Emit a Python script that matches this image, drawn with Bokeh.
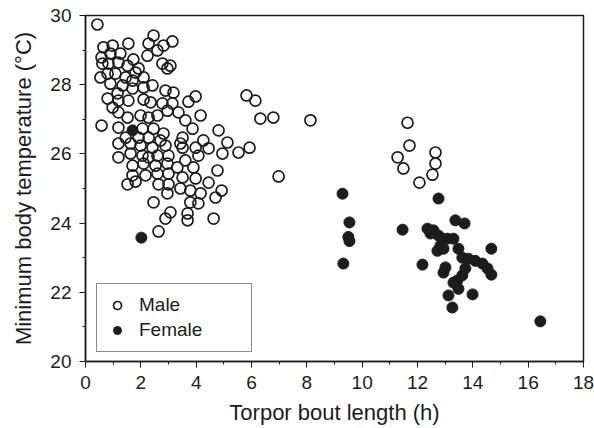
from bokeh.plotting import figure
from bokeh.models import Range1d, SingleIntervalTicker, Legend, LegendItem
from bokeh.embed import file_html
from bokeh.resources import INLINE

# Male data (torpor bout length h, min body temperature °C)
male_x = [0.43, 2.46, 3.14, 0.65, 0.98, 1.55, 2.28, 2.60, 2.82, 0.58, 0.90, 1.26, 1.73, 2.24,
          0.61, 0.83, 1.19, 1.52, 1.92, 2.78, 3.07, 2.96, 0.54, 0.80, 1.08, 1.45, 1.70, 2.10,
          1.81, 0.90, 1.34, 1.70, 2.10, 2.42, 2.89, 3.18, 0.80, 1.16, 1.19, 1.55, 2.10, 2.35,
          2.78, 3.98, 3.72, 3.14,
          0.98, 1.19, 1.52, 1.99, 2.28, 2.60, 2.96, 1.19, 2.06, 2.46, 2.82, 1.45, 1.92, 2.28,
          2.71, 1.19, 1.63, 1.99, 2.42, 2.89, 1.19, 1.63, 2.06, 2.28, 2.60, 3.00, 1.70, 2.10,
          2.53, 2.96, 1.70, 2.17, 2.60, 3.00, 1.52, 1.81, 2.64, 3.00, 2.96, 2.46, 3.07, 2.89,
          2.64, 3.36, 4.16, 3.61, 4.81, 3.87, 3.51, 4.26, 5.13, 3.98, 3.51, 3.61, 4.08, 3.32,
          3.90, 3.51, 3.98, 3.79, 4.16, 3.79, 4.08, 3.69, 3.69, 4.63, 0.58, 5.82, 6.14, 6.32,
          6.79, 8.13, 6.98, 5.53, 5.93, 4.95, 4.77, 4.45, 4.92, 4.70, 4.45, 3.43, 3.43,
          11.64, 11.71, 11.28, 11.49, 12.65, 12.65, 12.54, 12.07]
male_y = [29.74, 29.42, 29.25, 29.08, 29.13, 29.19, 29.19, 28.99, 29.13, 28.79, 28.90, 28.90, 28.73, 28.84,
          28.61, 28.61, 28.64, 28.55, 28.47, 28.61, 28.55, 28.47, 28.21, 28.32, 28.32, 28.21, 28.12, 28.21,
          28.35, 28.03, 27.98, 27.89, 27.92, 27.98, 27.83, 27.77, 27.60, 27.75, 27.54, 27.54, 27.57, 27.49,
          27.46, 27.66, 27.51, 27.46,
          27.34, 27.20, 27.05, 27.11, 27.05, 27.11, 27.25, 26.76, 26.73, 26.73, 26.59, 26.47, 26.47, 26.47,
          26.39, 26.30, 26.30, 26.24, 26.18, 26.24, 25.90, 26.01, 25.95, 25.90, 25.95, 25.95, 25.66, 25.72,
          25.66, 25.72, 25.38, 25.38, 25.43, 25.43, 25.12, 25.20, 25.12, 25.12, 24.86, 24.60, 24.31, 24.13,
          23.76, 27.20, 27.11, 26.97, 26.68, 26.73, 26.47, 26.39, 26.33, 26.18, 26.18, 25.81, 25.95, 25.61,
          25.61, 25.32, 25.29, 24.94, 24.86, 24.60, 24.57, 24.28, 24.08, 24.13, 26.82, 27.69, 27.54, 27.02,
          27.05, 26.97, 25.35, 26.04, 26.18, 26.01, 25.52, 25.17, 24.94, 24.74, 26.16, 26.30, 25.00,
          26.90, 26.24, 25.90, 25.58, 26.04, 25.72, 25.40, 25.17]

# Female data
female_x = [1.70, 2.02, 9.29, 9.54, 9.50, 9.54, 9.32, 11.46, 12.76, 13.37, 13.70, 12.36, 12.58, 12.47,
            12.76, 12.90, 13.08, 13.30, 12.83, 12.72, 12.94, 13.48, 14.67, 13.62, 13.84, 14.09, 14.35,
            14.53, 14.67, 13.73, 12.18, 13.01, 12.94, 13.62, 13.44, 13.30, 13.48, 13.12, 13.99, 13.26, 16.44]
female_y = [26.68, 23.58, 24.85, 24.02, 23.60, 23.48, 22.83, 23.81, 24.71, 24.08, 23.99, 23.84, 23.79, 23.70,
            23.64, 23.55, 23.55, 23.55, 23.35, 23.20, 23.26, 23.26, 23.26, 23.00, 22.97, 22.91, 22.83,
            22.69, 22.51, 22.69, 22.80, 22.72, 22.57, 22.49, 22.34, 22.28, 22.10, 21.91, 21.94, 21.56, 21.16]

x_label = "Torpor bout length (h)"
y_label = "Minimum body temperature (°C)"
series_names = ["Male", "Female"]

FONT = "Liberation Sans"
INK = "#1c1c1c"

p = figure(width=594, height=428, output_backend="svg", toolbar_location=None,
           x_range=Range1d(0, 18), y_range=Range1d(20, 30),
           min_border_left=85, min_border_right=11, min_border_top=15, min_border_bottom=67)

p.xgrid.visible = False
p.ygrid.visible = False
p.outline_line_color = INK
p.outline_line_width = 1.5
p.background_fill_color = "white"
p.border_fill_color = "white"

for ax, tick in ((p.xaxis[0], 2), (p.yaxis[0], 2)):
    ax.ticker = SingleIntervalTicker(interval=tick, num_minor_ticks=2)
    ax.axis_line_color = INK
    ax.axis_line_width = 1.5
    ax.major_tick_line_color = INK
    ax.minor_tick_line_color = INK
    ax.major_tick_out = 6
    ax.major_tick_in = 0
    ax.minor_tick_out = 3
    ax.minor_tick_in = 0
    ax.major_label_text_font = FONT
    ax.major_label_text_font_size = "19px"
    ax.major_label_text_color = INK
    ax.axis_label_text_font = FONT
    ax.axis_label_text_font_size = "22px"
    ax.axis_label_text_font_style = "normal"
    ax.axis_label_text_color = INK

p.xaxis.axis_label = x_label
p.yaxis.axis_label = y_label
p.xaxis.major_label_standoff = 8
p.xaxis.axis_label_standoff = 8
p.yaxis.major_label_standoff = 8
p.yaxis.axis_label_standoff = 11

r_m = p.scatter(male_x, male_y, size=11, marker="circle", fill_color=None,
                line_color=INK, line_width=1.7)
r_f = p.scatter(female_x, female_y, size=11, marker="circle", fill_color=INK,
                line_color=INK, line_width=1.0)

legend = Legend(items=[LegendItem(label=series_names[0], renderers=[r_m]),
                       LegendItem(label=series_names[1], renderers=[r_f])],
                location=(11, 9), orientation="vertical",
                label_text_font=FONT, label_text_font_size="19px", label_text_color=INK,
                border_line_color=INK, border_line_width=1.2,
                background_fill_color="white", background_fill_alpha=1.0,
                padding=10, spacing=3, margin=0,
                glyph_width=20, glyph_height=20, label_height=20,
                label_standoff=12, label_width=102)
p.add_layout(legend, "center")

open("out.html", "w").write(file_html(p, INLINE))
